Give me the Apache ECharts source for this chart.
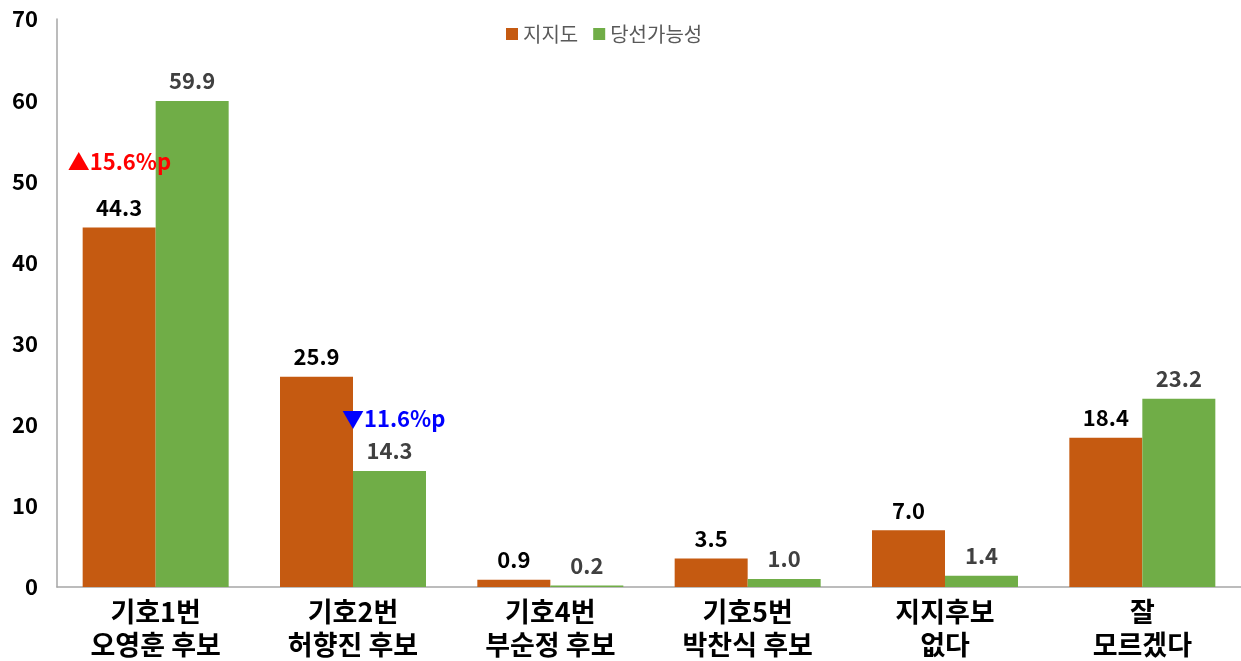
<!DOCTYPE html>
<html>
<head>
<meta charset="utf-8">
<script src="https://cdn.jsdelivr.net/npm/echarts@6/dist/echarts.min.js"></script>
<style>
  html, body { margin: 0; padding: 0; background: #fff; }
  #chart { width: 1241px; height: 661px; }
</style>
</head>
<body>
<div id="chart"></div>
<script>
const categories = ['기호1번\n오영훈 후보', '기호2번\n허향진 후보', '기호4번\n부순정 후보', '기호5번\n박찬식 후보', '지지후보\n없다', '잘\n모르겠다'];
const support = [44.3, 25.9, 0.9, 3.5, 7.0, 18.4];
const winChance = [59.9, 14.3, 0.2, 1.0, 1.4, 23.2];
const seriesNames = ['지지도', '당선가능성'];
const yTicks = { min: 0, max: 70, interval: 10 };
// annotation: [category index, value level, text, colour]
const notes = [
  [0, 52.4, '▲15.6%p', '#ff0000'],
  [1, 20.8, '▼11.6%p', '#0000ff']
];

const FONT = '"Noto Sans CJK KR", "Noto Sans", sans-serif';
const chart = echarts.init(document.getElementById('chart'));

const labelStyle = (color) => ({
  show: true,
  position: 'top',
  distance: 9,
  color: color,
  fontSize: 22,
  fontWeight: 'bold',
  fontFamily: FONT,
  formatter: (p) => p.value.toFixed(1)
});

chart.setOption({
  animation: false,
  textStyle: { fontFamily: FONT },
  legend: {
    top: 19,
    left: 501,
    itemWidth: 12,
    itemHeight: 12,
    itemGap: 15,
    icon: 'rect',
    textStyle: { color: '#595959', fontSize: 20, fontFamily: FONT },
    data: seriesNames
  },
  grid: { left: 57, right: 0, top: 19, bottom: 73, containLabel: false },
  xAxis: {
    type: 'category',
    data: categories,
    axisLine: { lineStyle: { color: '#a6a6a6', width: 1.5 } },
    axisTick: { show: false },
    axisLabel: {
      color: '#000',
      fontSize: 27,
      fontWeight: 'bold',
      fontFamily: FONT,
      lineHeight: 33,
      margin: 8,
      interval: 0
    }
  },
  yAxis: {
    type: 'value',
    min: yTicks.min,
    max: yTicks.max,
    interval: yTicks.interval,
    axisLine: { show: true, lineStyle: { color: '#a6a6a6', width: 1.5 } },
    axisTick: { show: false },
    splitLine: { show: false },
    axisLabel: {
      color: '#000',
      fontSize: 22,
      fontWeight: 'bold',
      fontFamily: FONT,
      margin: 19
    }
  },
  series: [
    {
      name: seriesNames[0],
      type: 'bar',
      data: support,
      barWidth: 73,
      barGap: '0%',
      itemStyle: { color: '#c55a11' },
      label: labelStyle('#000')
    },
    {
      name: seriesNames[1],
      type: 'bar',
      data: winChance,
      barWidth: 73,
      barGap: '0%',
      itemStyle: { color: '#70ad47' },
      label: labelStyle('#404040')
    }
  ]
});

// place the change annotations relative to the category centres
const graphics = notes.map(([idx, val, text, color]) => {
  const pt = chart.convertToPixel({ xAxisIndex: 0, yAxisIndex: 0 }, [idx, val]);
  return {
    type: 'text',
    z: 100,
    zlevel: 1,
    x: idx === 0 ? pt[0] - 88 : pt[0] - 11,
    y: pt[1],
    style: {
      text: text,
      fill: color,
      font: 'bold 22px ' + FONT,
      verticalAlign: 'middle'
    }
  };
});
chart.setOption({ graphic: graphics });
</script>
</body>
</html>
